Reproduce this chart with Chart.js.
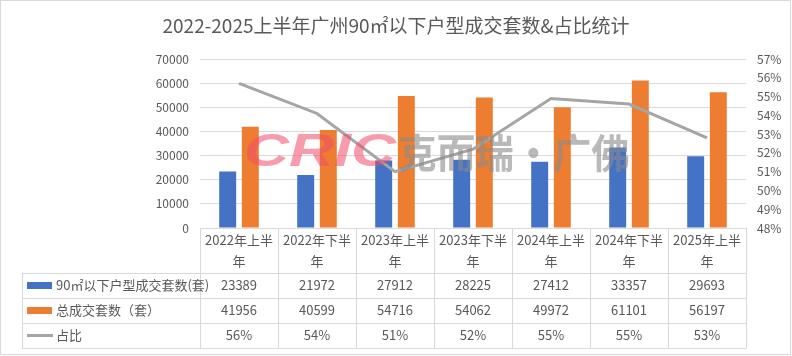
<!DOCTYPE html>
<html><head><meta charset="utf-8">
<script src="https://cdn.jsdelivr.net/npm/chart.js@4"></script>
<style>html,body{margin:0;padding:0;background:#fff}#wrap{width:792px;height:356px;position:relative}</style>
</head><body><div id="wrap"><canvas id="c" width="792" height="356"></canvas></div>
<script>
const title = '2022-2025上半年广州90㎡以下户型成交套数&占比统计';
const categories = ['2022年上半年','2022年下半年','2023年上半年','2023年下半年','2024年上半年','2024年下半年','2025年上半年'];
const smallUnits = [23389,21972,27912,28225,27412,33357,29693];
const totalUnits = [41956,40599,54716,54062,49972,61101,56197];
const ratioPct = [55.7,54.1,51.0,52.2,54.9,54.6,52.8];
const seriesNames = ['90㎡以下户型成交套数(套)','总成交套数（套）','占比'];
const watermarkA = 'CRIC';
const watermarkB = '克而瑞·广佛';

const FONT = "'Noto Sans CJK SC', 'Noto Sans', sans-serif";
const TXT = '#595959';
const LINE = '#d9d9d9';

function fitText(ctx, text, x, y, w) {
  const m = ctx.measureText(text).width;
  ctx.save();
  ctx.translate(x, y);
  ctx.scale(w / m, 1);
  ctx.fillText(text, 0, 0);
  ctx.restore();
}

const tablePlugin = {
  id: 'tablePlugin',
  afterDraw(chart) {
    const ctx = chart.ctx;
    const x = chart.scales.x;
    const area = chart.chartArea;
    const n = categories.length;
    const colW = (area.right - area.left) / n;
    const top = area.bottom;
    const rows = [top, top + 45, top + 70, top + 95, top + 120];
    const left = 22;
    ctx.save();
    // watermark
    ctx.textBaseline = 'middle';
    ctx.textAlign = 'left';
    ctx.globalAlpha = 0.55;
    ctx.font = "italic bold 46px 'Liberation Sans', sans-serif";
    ctx.fillStyle = '#f04a6a';
    fitText(ctx, watermarkA, 244, 153, 152);
    ctx.globalAlpha = 0.6;
    ctx.font = "bold 40px " + FONT;
    ctx.fillStyle = '#8a8a8a';
    fitText(ctx, watermarkB, 398, 153, 232);
    ctx.globalAlpha = 1;
    // table lines
    ctx.strokeStyle = LINE;
    ctx.lineWidth = 1;
    ctx.beginPath();
    ctx.moveTo(area.left, rows[0] + 0.5); ctx.lineTo(area.right, rows[0] + 0.5);
    for (let r = 1; r < rows.length; r++) {
      ctx.moveTo(left, Math.round(rows[r]) + 0.5); ctx.lineTo(area.right, Math.round(rows[r]) + 0.5);
    }
    ctx.moveTo(left + 0.5, rows[1]); ctx.lineTo(left + 0.5, rows[4]);
    for (let i = 0; i <= n; i++) {
      const xx = Math.round(area.left + i * colW) + 0.5;
      ctx.moveTo(xx, rows[0]); ctx.lineTo(xx, rows[4]);
    }
    ctx.stroke();
    // header and values
    ctx.fillStyle = TXT;
    ctx.font = '13px ' + FONT;
    ctx.textAlign = 'center';
    ctx.textBaseline = 'middle';
    for (let i = 0; i < n; i++) {
      const cx = x.getPixelForValue(i);
      const lab = categories[i];
      ctx.fillText(lab.slice(0, lab.length - 1), cx, rows[0] + 12);
      ctx.fillText(lab.slice(lab.length - 1), cx, rows[0] + 33);
      ctx.fillText(String(smallUnits[i]), cx, (rows[1] + rows[2]) / 2);
      ctx.fillText(String(totalUnits[i]), cx, (rows[2] + rows[3]) / 2);
      ctx.fillText(Math.round(ratioPct[i]) + '%', cx, (rows[3] + rows[4]) / 2);
    }
    // legend column
    const colors = ['#4472c4', '#ed7d31'];
    for (let r = 0; r < 3; r++) {
      const cy = (rows[r + 1] + rows[r + 2]) / 2;
      if (r < 2) {
        ctx.fillStyle = colors[r];
        ctx.fillRect(27, cy - 3.5, 25, 7);
      } else {
        ctx.strokeStyle = '#a5a5a5';
        ctx.lineWidth = 3;
        ctx.beginPath(); ctx.moveTo(27, cy); ctx.lineTo(53, cy); ctx.stroke();
      }
      ctx.fillStyle = TXT;
      ctx.textAlign = 'left';
      ctx.fillText(seriesNames[r], 56, cy);
    }
    // title
    ctx.font = '19px ' + FONT;
    ctx.textAlign = 'center';
    ctx.fillStyle = TXT;
    ctx.fillText(title, 396, 26);
    // outer border
    ctx.strokeStyle = LINE;
    ctx.lineWidth = 1;
    ctx.strokeRect(0.5, 0.5, 790, 354);
    ctx.restore();
  }
};

new Chart(document.getElementById('c'), {
  data: {
    labels: categories,
    datasets: [
      { type: 'line', label: seriesNames[2], data: ratioPct, yAxisID: 'y1', borderColor: '#a5a5a5', borderWidth: 3, pointRadius: 0, tension: 0, order: 0 },
      { type: 'bar', label: seriesNames[0], data: smallUnits, yAxisID: 'y', backgroundColor: '#4472c4', categoryPercentage: 0.58, barPercentage: 0.75, order: 1 },
      { type: 'bar', label: seriesNames[1], data: totalUnits, yAxisID: 'y', backgroundColor: '#ed7d31', categoryPercentage: 0.58, barPercentage: 0.75, order: 1 }
    ]
  },
  options: {
    responsive: false,
    animation: false,
    devicePixelRatio: 1,
    layout: { padding: { left: 0, right: 0, top: 59, bottom: 128 } },
    plugins: { legend: { display: false }, title: { display: false }, tooltip: { enabled: false } },
    scales: {
      x: { display: false, offset: true },
      y: {
        position: 'left', min: 0, max: 70000,
        ticks: { stepSize: 10000, color: TXT, font: { size: 12, family: FONT }, padding: 11, callback: v => String(v) },
        grid: { color: LINE, drawTicks: false },
        border: { display: false },
        afterFit(s) { s.width = 200; }
      },
      y1: {
        position: 'right', min: 48, max: 57,
        ticks: { stepSize: 1, color: TXT, font: { size: 12, family: FONT }, padding: 11, callback: v => v + '%' },
        grid: { drawOnChartArea: false, drawTicks: false },
        border: { display: false },
        afterFit(s) { s.width = 46; }
      }
    }
  },
  plugins: [tablePlugin]
});
</script></body></html>
